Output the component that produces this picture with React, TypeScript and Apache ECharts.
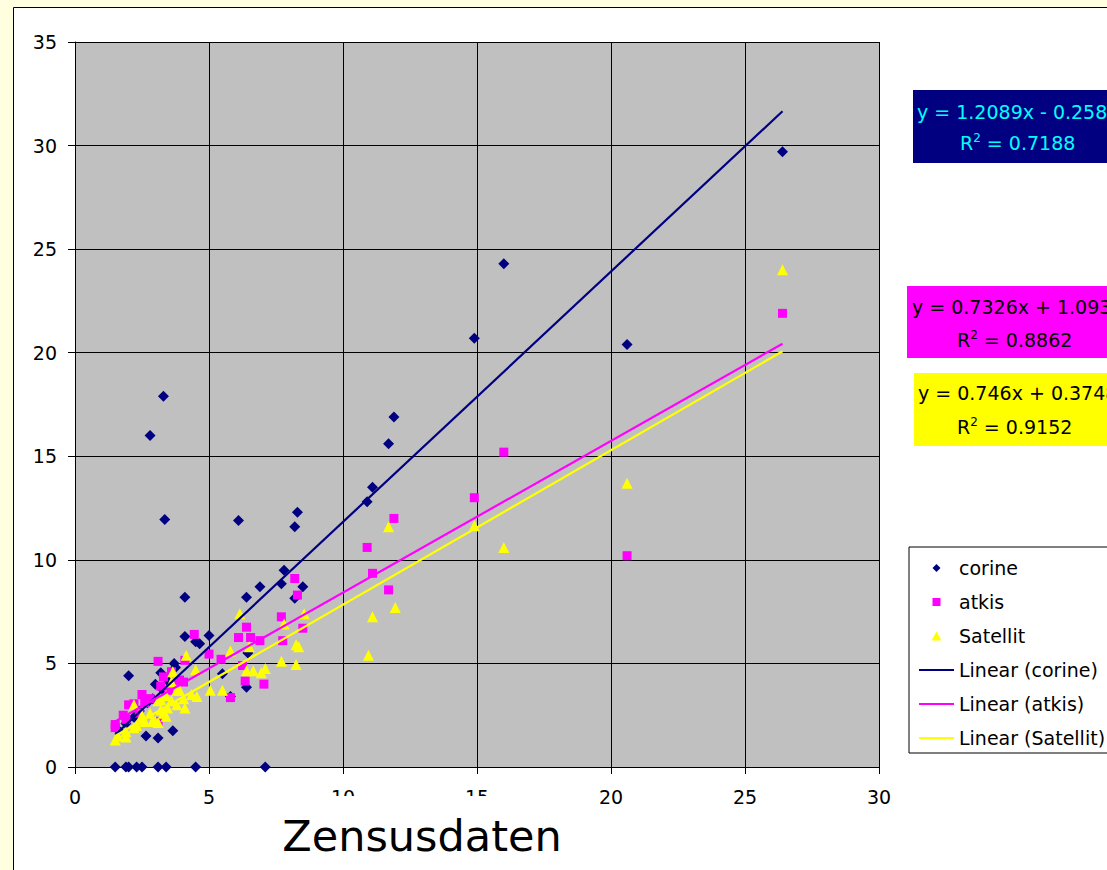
import React, { useEffect, useRef } from 'react';
import * as echarts from 'echarts';

const seriesNames = ['corine', 'atkis', 'Satellit'];
const trendNames = ['Linear (corine)', 'Linear (atkis)', 'Linear (Satellit)'];
const seriesColors = ['#000080', '#FF00FF', '#FFFF00'];

const corineData: [number, number][] = [
  [1.5, 0], [1.9, 0], [2.0, 0], [2.3, 0], [2.5, 0], [3.1, 0], [3.4, 0], [4.5, 0], [7.1, 0],
  [2.65, 1.5], [3.1, 1.4], [3.65, 1.75],
  [1.6, 1.8], [1.9, 2.1], [2.2, 2.4], [2.4, 2.7], [2.7, 3.1], [2.9, 3.3], [3.3, 3.7], [3.5, 4.1],
  [2.0, 4.4], [3.0, 4.0], [3.2, 4.55], [3.7, 5.0], [3.75, 4.8],
  [4.1, 6.3], [4.5, 6.05], [4.65, 5.95], [5.0, 6.35], [5.5, 4.5], [5.8, 3.4], [6.4, 3.85], [6.45, 5.5],
  [4.1, 8.2], [6.4, 8.2], [6.9, 8.7], [7.7, 8.85], [7.8, 9.5], [8.5, 8.7], [8.2, 8.15],
  [6.1, 11.9], [8.2, 11.6], [8.3, 12.3], [3.35, 11.95], [2.8, 16.0], [3.3, 17.9],
  [10.9, 12.8], [11.1, 13.5], [11.7, 15.6], [11.9, 16.9],
  [14.9, 20.7], [16.0, 24.3], [20.6, 20.4], [26.4, 29.7],
];

const atkisData: [number, number][] = [
  [1.5, 2.05], [1.5, 1.9], [1.8, 2.5], [1.9, 2.3], [2.0, 3.0], [2.2, 3.05], [2.4, 2.6], [2.5, 3.5],
  [2.6, 3.1], [2.8, 3.3], [3.1, 5.1], [3.1, 2.2], [3.2, 3.9], [3.3, 4.35], [3.5, 3.7], [3.6, 4.6],
  [3.7, 4.0], [3.9, 4.2], [4.05, 4.1], [4.1, 5.15], [4.45, 6.4], [5.0, 5.45], [5.45, 5.2], [5.8, 3.35],
  [6.1, 6.25], [6.25, 4.9], [6.35, 4.15], [6.4, 6.75], [6.55, 6.25], [6.9, 6.1], [7.05, 4.0],
  [7.7, 7.25], [7.75, 6.1], [8.2, 9.1], [8.3, 8.3], [8.5, 6.7],
  [10.9, 10.6], [11.1, 9.35], [11.7, 8.55], [11.9, 12.0], [14.9, 13.0], [16.0, 15.2], [20.6, 10.2], [26.4, 21.9],
];

const satellitData: [number, number][] = [
  [1.5, 1.3], [1.6, 1.5], [1.9, 1.45], [1.9, 1.7], [2.2, 1.9], [2.2, 3.0], [2.3, 2.0], [2.5, 2.3],
  [2.5, 2.5], [2.6, 2.2], [2.8, 2.6], [2.9, 2.25], [3.0, 2.2], [3.1, 2.15], [3.1, 3.2], [3.2, 2.75],
  [3.2, 3.25], [3.3, 2.6], [3.4, 2.45], [3.4, 3.45], [3.45, 2.85], [3.6, 3.2], [3.6, 4.1], [3.65, 4.6],
  [3.8, 3.0], [3.8, 3.7], [3.9, 3.7], [4.05, 3.3], [4.1, 2.85], [4.15, 5.4], [4.35, 3.5], [4.5, 4.7],
  [4.55, 3.4], [5.05, 3.7], [5.5, 3.7], [5.8, 5.6], [6.15, 7.4], [6.4, 4.65], [6.5, 5.8], [6.65, 4.65],
  [6.95, 4.55], [7.1, 4.75], [7.7, 5.1], [7.8, 6.9], [8.25, 4.95], [8.25, 5.9], [8.35, 5.8], [8.55, 7.4],
  [10.95, 5.4], [11.1, 7.25], [11.7, 11.6], [11.95, 7.7], [14.9, 11.65], [16.0, 10.6], [20.6, 13.7], [26.4, 24.0],
];

const trendSlopes = [1.2089, 0.7326, 0.746];
const trendIntercepts = [-0.258, 1.0937, 0.3748];
const trendEquations = ['y = 1.2089x - 0.258', 'y = 0.7326x + 1.0937', 'y = 0.746x + 0.3748'];
const trendR2 = ['0.7188', '0.8862', '0.9152'];
const xAxisTitle = 'Zensusdaten';

const FONT = 'DejaVu Sans';

// legend icons: a small marker centred in a 35x10 box (the leading moves fix the bounding box)
const LEGEND_DIAMOND = 'path://M0,0 M35,10 M17.5,1 L21.5,5 L17.5,9 L13.5,5 Z';
const LEGEND_SQUARE = 'path://M0,0 M35,10 M13.5,1 L21.5,1 L21.5,9 L13.5,9 Z';
const LEGEND_TRIANGLE = 'path://M0,0 M35,10 M17.5,0.5 L22.5,9.5 L12.5,9.5 Z';

export default function App() {
  const ref = useRef<HTMLDivElement>(null);
  useEffect(() => {
    const chart = echarts.init(ref.current!, null, { renderer: 'svg' });
    const datasets = [corineData, atkisData, satellitData];
    const symbols = ['diamond', 'rect', 'triangle'];
    const symbolSizes = [11, 9, 11];

    const scatterSeries = datasets.map((d, i) => ({
      name: seriesNames[i],
      type: 'scatter',
      data: d,
      symbol: symbols[i],
      symbolSize: symbolSizes[i],
      itemStyle: { color: seriesColors[i], opacity: 1 },
      z: 2,
    }));

    const trendSeries = datasets.map((d, i) => {
      const xs = d.map((p) => p[0]);
      const x0 = Math.min(...xs);
      const x1 = Math.max(...xs);
      return {
        name: trendNames[i],
        type: 'line',
        data: [
          [x0, trendSlopes[i] * x0 + trendIntercepts[i]],
          [x1, trendSlopes[i] * x1 + trendIntercepts[i]],
        ],
        symbol: 'none',
        lineStyle: { color: seriesColors[i], width: 2.2 },
        itemStyle: { color: seriesColors[i] },
        z: 3,
      };
    });

    const boxes = [
      { bx: 913, by: 90, bw: 260, bh: 73, fill: '#000080', color: '#00FFFF', eqX: 917, eqY: 112, rX: 960, rY: 143 },
      { bx: 907, by: 286, bw: 260, bh: 72, fill: '#FF00FF', color: '#000000', eqX: 912, eqY: 307, rX: 957, rY: 340 },
      { bx: 914, by: 373, bw: 260, bh: 73, fill: '#FFFF00', color: '#000000', eqX: 918, eqY: 393, rX: 957, rY: 427 },
    ];

    const boxGraphics: any[] = [];
    boxes.forEach((b, i) => {
      boxGraphics.push({
        type: 'rect', z: 50,
        shape: { x: b.bx, y: b.by, width: b.bw, height: b.bh },
        style: { fill: b.fill },
      });
      boxGraphics.push({
        type: 'text', z: 51, x: b.eqX, y: b.eqY,
        style: {
          text: trendEquations[i], fill: b.color, fontSize: 19, fontFamily: FONT,
          align: 'left', verticalAlign: 'middle',
        },
      });
      boxGraphics.push({
        type: 'text', z: 51, x: b.rX, y: b.rY,
        style: {
          text: '{r|R}{s|2}{r| = ' + trendR2[i] + '}',
          align: 'left', verticalAlign: 'middle',
          rich: {
            r: { fontSize: 19, fontFamily: FONT, fill: b.color, lineHeight: 22 },
            s: { fontSize: 12, fontFamily: FONT, fill: b.color, verticalAlign: 'top', lineHeight: 12 },
          },
        },
      });
    });

    const option: any = {
      animation: false,
      backgroundColor: 'transparent',
      textStyle: { fontFamily: FONT },
      grid: {
        left: 75, right: 228, top: 42, bottom: 103,
        show: true, backgroundColor: '#C0C0C0', borderWidth: 0,
      },
      xAxis: {
        type: 'value', min: 0, max: 30, interval: 5,
        axisLine: { show: true, onZero: false, lineStyle: { color: '#000', width: 1 } },
        axisTick: { show: true, inside: false, length: 7, lineStyle: { color: '#000' } },
        axisLabel: { color: '#000', fontSize: 19, fontFamily: FONT, margin: 20 },
        splitLine: { show: true, lineStyle: { color: '#000', width: 1 } },
      },
      yAxis: {
        type: 'value', min: 0, max: 35, interval: 5,
        axisLine: { show: true, onZero: false, lineStyle: { color: '#000', width: 1 } },
        axisTick: { show: true, inside: false, length: 7, lineStyle: { color: '#000' } },
        axisLabel: { color: '#000', fontSize: 19, fontFamily: FONT, margin: 18 },
        splitLine: { show: true, lineStyle: { color: '#000', width: 1 } },
      },
      legend: {
        orient: 'vertical',
        left: 909, top: 547,
        padding: [11, 40, 5, 9],
        backgroundColor: '#FFFFFF',
        borderColor: '#000', borderWidth: 1,
        itemWidth: 35, itemHeight: 10, itemGap: 14,
        textStyle: { color: '#000', fontSize: 19, fontFamily: FONT, lineHeight: 20 },
        data: [
          { name: seriesNames[0], icon: LEGEND_DIAMOND },
          { name: seriesNames[1], icon: LEGEND_SQUARE },
          { name: seriesNames[2], icon: LEGEND_TRIANGLE },
          { name: trendNames[0], itemStyle: { opacity: 0 } },
          { name: trendNames[1], itemStyle: { opacity: 0 } },
          { name: trendNames[2], itemStyle: { opacity: 0 } },
        ],
        selectedMode: false,
      },
      graphic: [
        {
          type: 'rect', z: -10,
          shape: { x: 13.5, y: 7.5, width: 1200, height: 1000 },
          style: { fill: '#FFFFFF', stroke: '#000000', lineWidth: 1 },
        },
        {
          type: 'rect', z: 100,
          shape: { x: 250, y: 796, width: 330, height: 80 },
          style: { fill: '#FFFFFF' },
        },
        {
          type: 'text', z: 101, x: 422, y: 836,
          style: {
            text: xAxisTitle, fill: '#000', fontSize: 43, fontFamily: FONT,
            align: 'center', verticalAlign: 'middle',
          },
        },
        ...boxGraphics,
      ],
      series: [...scatterSeries, ...trendSeries],
    };
    chart.setOption(option);
    return () => chart.dispose();
  }, []);

  return (
    <div style={{ position: 'fixed', left: 0, top: 0, width: 1107, height: 870, background: '#FFFFE0', overflow: 'hidden' }}>
      <div ref={ref} style={{ width: 1107, height: 870 }} />
    </div>
  );
}
